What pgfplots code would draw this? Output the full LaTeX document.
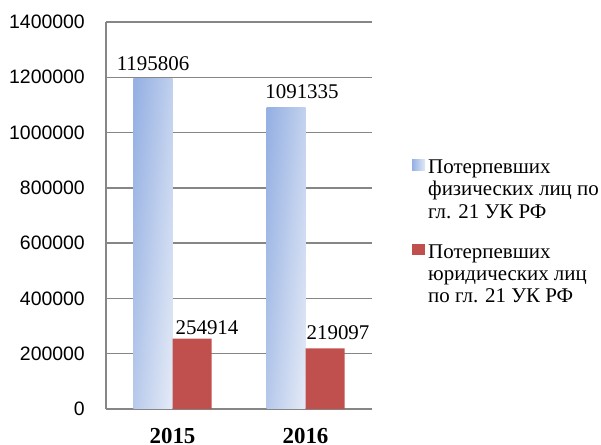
\documentclass[border=0pt]{standalone}
\usepackage{pgfplots}
\pgfplotsset{compat=1.18}
\usepackage{fontspec}
\setmainfont{Liberation Serif}
\newfontfamily\arial{Liberation Sans}
\definecolor{blueL}{RGB}{150,177,227}
\definecolor{blueR}{RGB}{226,233,246}
\definecolor{barred}{RGB}{192,80,77}
\definecolor{gridgray}{RGB}{134,134,134}
\tikzset{blueshade/.style={left color=blueL, right color=blueR, shading angle=84.5}}
\begin{document}
\begin{tikzpicture}
\useasboundingbox (0,0) rectangle (601bp,445bp);
\begin{axis}[
  at={(106bp,36bp)}, anchor=south west,
  scale only axis, width=266bp, height=387bp,
  clip=false,
  xmin=-0.5, xmax=1.5, ymin=0, ymax=1400000,
  ytick={0,200000,400000,600000,800000,1000000,1200000,1400000},
  xtick={0,1}, xticklabels={2015,2016},
  extra x ticks={-0.5}, extra x tick labels={},
  extra x tick style={grid=major, major grid style={gridgray, line width=1.8bp}},
  scaled y ticks=false,
  /pgf/number format/assume math mode=true,
  yticklabel style={/pgf/number format/fixed, /pgf/number format/1000 sep={}, font=\arial\fontsize{19.5}{19.5}\selectfont, inner sep=0pt, xshift=-21bp},
  xticklabel style={font=\bfseries\fontsize{23}{23}\selectfont, inner sep=0pt, yshift=-19bp},
  major tick length=0pt,
  axis lines*=left,
  axis line style={gridgray, line width=1.8bp, -},
  y axis line style={draw=none},
  every outer y axis line/.append style={draw=none},
  every inner y axis line/.append style={draw=none},
  ymajorgrids, grid style={gridgray, line width=1.4bp},
  ybar, bar width=39bp,
  point meta=explicit symbolic,
  visualization depends on={value \thisrow{dx}\as\dx},
  visualization depends on={value \thisrow{dy}\as\dy},
  nodes near coords,
  every node near coord/.append style={font=\fontsize{21}{21}\selectfont, inner sep=0pt, text=black, xshift=\dx*1bp, yshift=\dy*1bp},
  legend style={at={(1.1504,0.6494)}, anchor=north west, draw=none, fill=none, inner sep=0pt, row sep=0pt, column sep=3bp,
    cells={anchor=base west}, nodes={inner sep=0pt, text height=15.6bp, text depth=6.7bp, font=\fontsize{21}{22.3}\selectfont}},
]
\addplot[draw=none, blueshade, bar shift=-19.5bp,
  legend image code/.code={\path[left color=blueL, right color=blueR, draw=none] (0bp,3bp) rectangle (13bp,14bp);}]
  table[x=x, y=y, meta=lab] {
x y lab dx dy
0 1195806 1195806 0 8
};
\addlegendentry{Потерпевших}
\addlegendimage{empty legend}
\addlegendentry{физических лиц по}
\addlegendimage{empty legend}
\addlegendentry[text depth=24.7bp]{гл. 21 УК РФ}
\addplot[draw=none, blueshade, bar shift=-19.5bp, forget plot]
  table[x=x, y=y, meta=lab] {
x y lab dx dy
1 1091335 1091335 16 8
};
\addplot[draw=none, fill=barred, bar shift=19.5bp,
  legend image code/.code={\path[fill=barred, draw=none] (0bp,3bp) rectangle (13bp,14bp);}]
  table[x=x, y=y, meta=lab] {
x y lab dx dy
0 254914 254914 15 3.5
1 219097 219097 13 8.4
};
\addlegendentry{Потерпевших}
\addlegendimage{empty legend}
\addlegendentry{юридических лиц}
\addlegendimage{empty legend}
\addlegendentry{по гл. 21 УК РФ}
\end{axis}
\end{tikzpicture}
\end{document}
